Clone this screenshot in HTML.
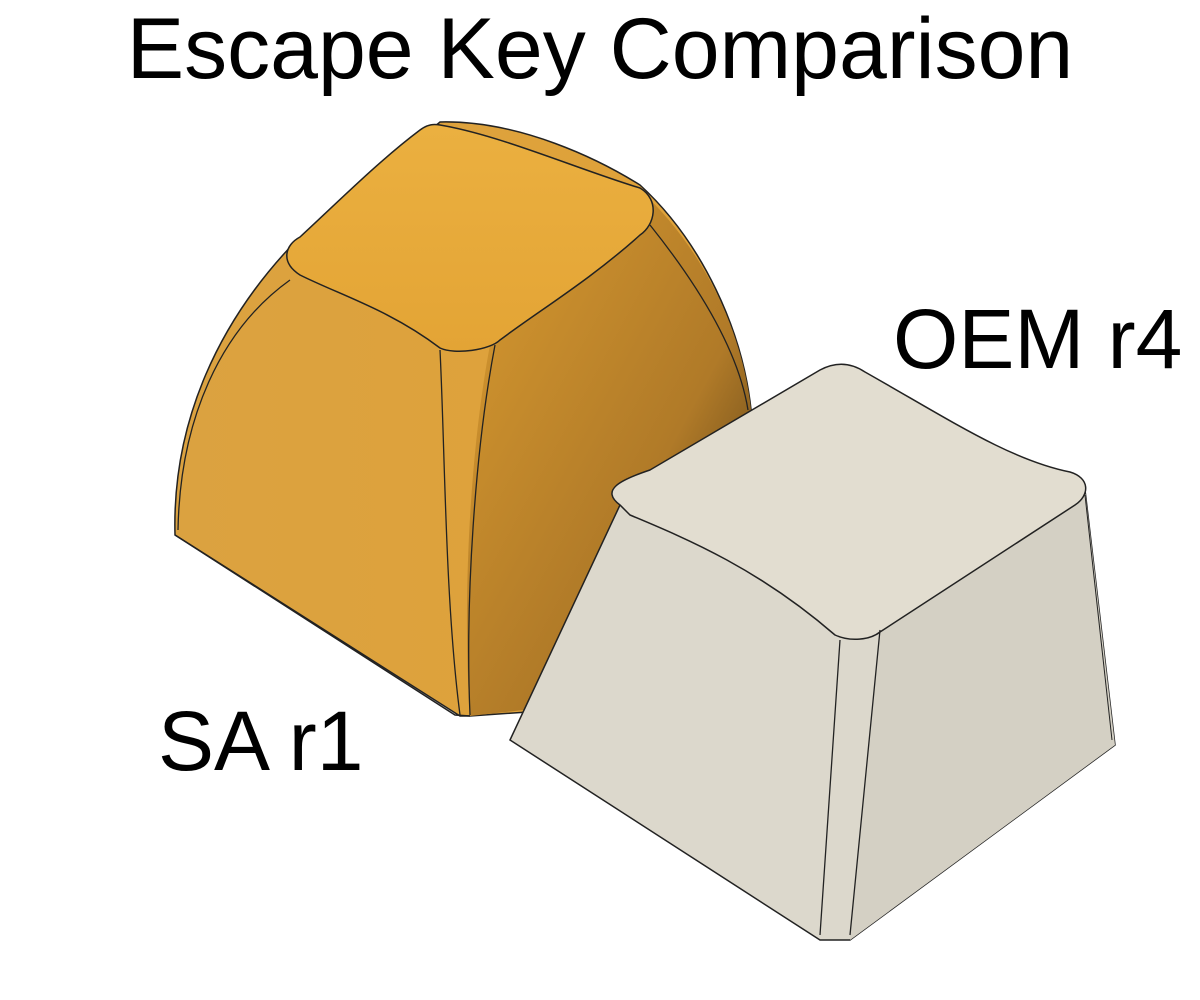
<!DOCTYPE html>
<html><head><meta charset="utf-8"><style>
html,body{margin:0;padding:0;background:#fff;}
svg{display:block;}
</style></head><body>
<svg width="1200" height="1000" viewBox="0 0 1200 1000" xmlns="http://www.w3.org/2000/svg">
<defs>
<linearGradient id="saL" x1="0" y1="0" x2="1" y2="0">
<stop offset="0" stop-color="#dba240"/><stop offset="1" stop-color="#e0a238"/></linearGradient>
<linearGradient id="saR" x1="0" y1="0" x2="1" y2="1">
<stop offset="0" stop-color="#d89a30"/><stop offset="0.6" stop-color="#b07a28"/><stop offset="1" stop-color="#3a2a10"/></linearGradient>
<linearGradient id="saT" x1="0" y1="0" x2="0" y2="1">
<stop offset="0" stop-color="#ebb040"/><stop offset="1" stop-color="#e3a435"/></linearGradient>
</defs>
<text x="600" y="78" font-family="Liberation Sans, sans-serif" font-size="86" text-anchor="middle" fill="#000">Escape Key Comparison</text>

<!-- SA key -->
<path d="M175,535 C172,420 220,320 295,242 L440,122 C520,120 600,160 640,185 C700,240 745,330 752,420 L700,700 L470,716 L460,716 Z" fill="url(#saL)" stroke="#222" stroke-width="1.5"/>
<path d="M490,345 L640,190 C700,245 745,330 752,420 L700,690 L470,716 C462,600 470,450 490,345 Z" fill="url(#saR)"/>
<path d="M175,535 L455,715 L470,716" fill="none" stroke="#222" stroke-width="1.5"/>
<path d="M440,125 C500,135 580,170 640,188 C660,200 655,225 640,235 C590,280 540,310 500,340 C490,350 455,355 440,348 C390,310 340,295 300,275 C280,262 285,245 300,237 C340,200 380,160 420,130 C428,124 434,124 440,125 Z" fill="url(#saT)" stroke="#222" stroke-width="1.5"/>
<path d="M440,350 C445,450 445,600 460,715 M495,345 C475,450 465,600 470,715" fill="none" stroke="#222" stroke-width="1.3"/>
<path d="M178,530 C180,420 220,330 290,280 M650,225 C710,300 740,360 748,410" fill="none" stroke="#222" stroke-width="1.3"/>

<!-- OEM key -->
<path d="M620,505 L510,740 L820,940 L850,940 L1115,745 L1085,490 Z" fill="#dcd8cc" stroke="#222" stroke-width="1.5"/>
<path d="M880,630 L1085,490 L1115,745 L850,940 Z" fill="#d4d0c4"/>
<path d="M620,505 C600,490 620,480 650,470 L820,370 C835,362 850,362 865,372 C950,420 1010,460 1070,472 C1090,478 1090,495 1075,505 L880,632 C870,640 850,642 835,635 C760,570 690,540 630,515 Z" fill="#e2ddd0" stroke="#222" stroke-width="1.5"/>
<path d="M840,640 L820,935 M880,630 L850,935" fill="none" stroke="#222" stroke-width="1.3"/>
<path d="M1085,495 L1112,740" fill="none" stroke="#222" stroke-width="1"/>

<text x="893" y="368" font-family="Liberation Sans, sans-serif" font-size="84" fill="#000">OEM r4</text>
<text x="158" y="770" font-family="Liberation Sans, sans-serif" font-size="84" fill="#000">SA r1</text>
</svg>
</body></html>
